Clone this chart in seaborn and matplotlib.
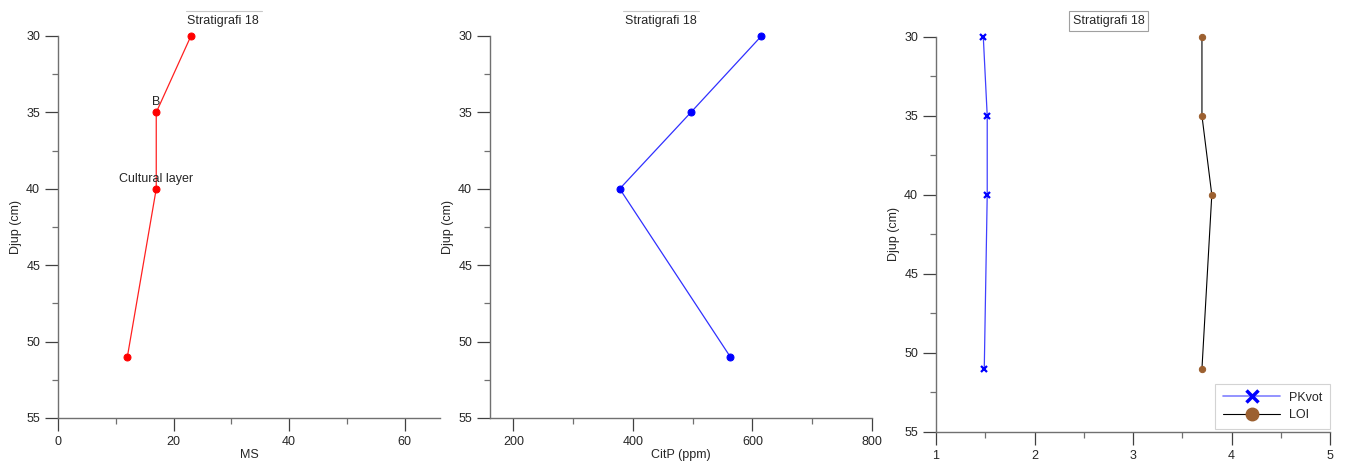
import matplotlib
matplotlib.use("Agg")
import matplotlib.pyplot as plt
from matplotlib.lines import Line2D
from matplotlib.ticker import MultipleLocator
import seaborn as sns
import pandas as pd

# Sample depths and measured values
depth_cm = [30, 35, 40, 51]
ms_values = [23, 17, 17, 12]
citp_ppm = [615, 497, 378, 563]
pkvot = [1.48, 1.52, 1.52, 1.49]
loi = [3.70, 3.70, 3.80, 3.70]
layer_labels = ["", "B", "Cultural layer", ""]
title = "Stratigrafi 18"

sns.set_style("white")
plt.rcParams["font.family"] = ["Liberation Sans", "DejaVu Sans"]
plt.rcParams["font.size"] = 9

W, H = 1353, 472
fig = plt.figure(figsize=(W / 100, H / 100), dpi=100)


def px_axes(left, top, right, bottom):
    return fig.add_axes([left / W, 1 - bottom / H, (right - left) / W, (bottom - top) / H])


def style_axis(ax, xmaj, xmin_step):
    for side in ("top", "right"):
        ax.spines[side].set_visible(False)
    for side in ("left", "bottom"):
        ax.spines[side].set_color("#707070")
        ax.spines[side].set_linewidth(1.0)
    ax.set_ylim(55, 30)
    ax.yaxis.set_major_locator(MultipleLocator(5))
    ax.yaxis.set_minor_locator(MultipleLocator(2.5))
    ax.xaxis.set_major_locator(MultipleLocator(xmaj))
    ax.xaxis.set_minor_locator(MultipleLocator(xmin_step))
    ax.tick_params(which="major", direction="out", length=9.4, width=0.9,
                   color="#404040", labelsize=9, pad=3.5, left=True, bottom=True)
    ax.tick_params(which="minor", direction="out", length=4.5, width=0.9,
                   color="#707070", left=True, bottom=True)
    ax.grid(False)


df = pd.DataFrame({"depth": depth_cm, "MS": ms_values, "CitP": citp_ppm,
                   "PKvot": pkvot, "LOI": loi})

# Panel 1: magnetic susceptibility
ax1 = px_axes(58, 36, 440, 418)
sns.lineplot(data=df, x="MS", y="depth", sort=False, estimator=None, ax=ax1,
             color="#ff2020", lw=0.9, marker="o", markersize=5,
             markerfacecolor="red", markeredgecolor="red", clip_on=False)
ax1.set_xlim(0, 66.1)
style_axis(ax1, 20, 10)
ax1.set_xlabel("MS", fontsize=9, labelpad=1)
ax1.set_ylabel("Djup (cm)", fontsize=9, labelpad=3)
for x, y, lab in zip(ms_values, depth_cm, layer_labels):
    if lab:
        ax1.annotate(lab, (x, y), xytext=(0, 7), textcoords="offset pixels",
                     ha="center", va="baseline", fontsize=9)

# Panel 2: citric acid soluble phosphate
ax2 = px_axes(490, 36, 872, 418)
sns.lineplot(data=df, x="CitP", y="depth", sort=False, estimator=None, ax=ax2,
             color="#3030ff", lw=0.9, marker="o", markersize=5,
             markerfacecolor="blue", markeredgecolor="blue", clip_on=False)
ax2.set_xlim(161, 800)
style_axis(ax2, 200, 100)
ax2.set_xlabel("CitP (ppm)", fontsize=9, labelpad=1)
ax2.set_ylabel("Djup (cm)", fontsize=9, labelpad=3)

# Panel 3: phosphate ratio and loss on ignition
ax3 = px_axes(936, 36.7, 1330, 432)
sns.lineplot(data=df, x="PKvot", y="depth", sort=False, estimator=None, ax=ax3,
             color="#4040ff", lw=0.9, marker="x", markersize=4.5,
             markeredgecolor="blue", markeredgewidth=1.6, clip_on=False)
sns.lineplot(data=df, x="LOI", y="depth", sort=False, estimator=None, ax=ax3,
             color="black", lw=0.8, marker="o", markersize=4.5,
             markerfacecolor="#9c6030", markeredgecolor="#9c6030", clip_on=False)
ax3.set_xlim(1, 5)
style_axis(ax3, 1, 0.5)
ax3.set_xlabel("")
ax3.set_ylabel("Djup (cm)", fontsize=9, labelpad=3)
handles = [
    Line2D([], [], color="#8080ff", lw=1.2, marker="x", markersize=8,
           markeredgecolor="blue", markeredgewidth=2.5, label="PKvot"),
    Line2D([], [], color="black", lw=0.8, marker="o", markersize=9,
           markerfacecolor="#9c6030", markeredgecolor="#9c6030", label="LOI"),
]
leg = ax3.legend(handles=handles, loc="lower right", bbox_to_anchor=(1.0, 0.0076),
                 frameon=True, fancybox=False, fontsize=9, handlelength=4.6,
                 borderpad=0.6, labelspacing=0.45, handletextpad=0.7,
                 borderaxespad=0.0)
leg.get_frame().set_edgecolor("#c8c8c8")
leg.get_frame().set_linewidth(0.8)

# Panel headings
fig.text(223 / W, 1 - 20.7 / H, title, ha="center", va="center", fontsize=9)
fig.text(661 / W, 1 - 20.7 / H, title, ha="center", va="center", fontsize=9)
fig.add_artist(Line2D([186 / W, 262 / W], [1 - 11 / H, 1 - 11 / H],
                      color="#c8c8c8", lw=0.8, transform=fig.transFigure))
fig.add_artist(Line2D([623 / W, 699 / W], [1 - 11 / H, 1 - 11 / H],
                      color="#c8c8c8", lw=0.8, transform=fig.transFigure))
fig.text(1108.5 / W, 1 - 21 / H, title, ha="center", va="center", fontsize=9,
         bbox=dict(boxstyle="square,pad=0.3", facecolor="white",
                   edgecolor="#a0a0a0", linewidth=0.8))

fig.savefig("out.png", dpi=100)
